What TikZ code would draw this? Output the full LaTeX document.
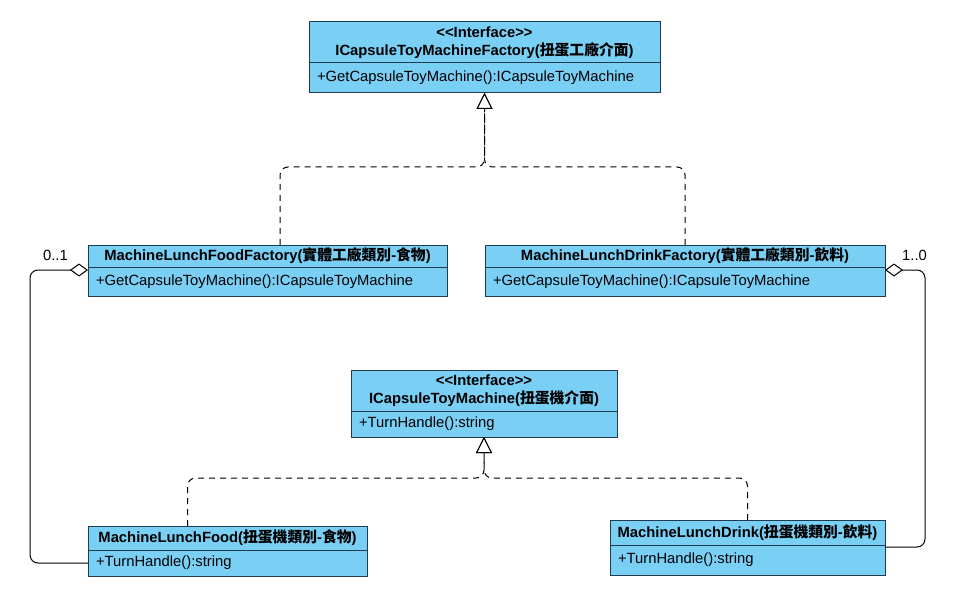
\documentclass[tikz,border=0pt]{standalone}
\usepackage{fontspec}
\setmainfont{Liberation Sans}
\newfontfamily\cjk{Noto Sans CJK TC}
\usetikzlibrary{positioning,arrows.meta}

\definecolor{classfill}{HTML}{7ACFF5}
\definecolor{classline}{HTML}{1F3B4D}
\newcommand{\stereotype}[1]{<\kern0pt<#1>\kern0pt>}
\newcommand{\zh}[1]{{\cjk #1}}

\begin{document}
\begin{tikzpicture}[x=1pt,y=-1pt,
    every node/.style={font=\fontsize{14.8}{18}\selectfont},
    classtitle/.style={draw=classline, fill=classfill, line width=1pt, anchor=north west,
        align=center, font=\fontsize{14.8}{18}\selectfont\bfseries, inner sep=0pt, outer sep=0pt},
    classbody/.style={draw=classline, fill=classfill, line width=1pt, align=left,
        inner xsep=8pt, inner ysep=0pt, outer sep=0pt},
    realize/.style={draw=black, line width=1pt, dash pattern=on 6pt off 5pt, rounded corners=8pt,
        -{Triangle[open, length=16pt, width=16pt, fill=white]}},
    aggr/.style={draw=black, line width=1pt, rounded corners=8pt,
        {Diamond[open, length=18pt, width=13pt, fill=white]}-},
    mult/.style={inner sep=0pt}]
    \useasboundingbox (0,0) rectangle (953,604); % Page size

    % Factory interface
    \node[classtitle, minimum width=351pt, minimum height=41pt] (ifac) at (309,22)
        {\stereotype{Interface}\\ICapsuleToyMachineFactory(\zh{扭蛋工廠介面})};
    \node[classbody, below=0pt of ifac, text width=335pt, minimum height=30pt] (ifacb)
        {+GetCapsuleToyMachine():ICapsuleToyMachine};

    % Concrete factories
    \node[classtitle, minimum width=359pt, minimum height=22pt] (lfac) at (88,245)
        {MachineLunchFoodFactory(\zh{實體工廠類別}-\zh{食物})};
    \node[classbody, below=0pt of lfac, text width=343pt, minimum height=29pt] (lfacb)
        {+GetCapsuleToyMachine():ICapsuleToyMachine};
    \node[classtitle, minimum width=400pt, minimum height=22pt] (rfac) at (485,245)
        {MachineLunchDrinkFactory(\zh{實體工廠類別}-\zh{飲料})};
    \node[classbody, below=0pt of rfac, text width=384pt, minimum height=29pt] (rfacb)
        {+GetCapsuleToyMachine():ICapsuleToyMachine};

    % Machine interface
    \node[classtitle, minimum width=266pt, minimum height=41pt] (imac) at (351,370)
        {\stereotype{Interface}\\ICapsuleToyMachine(\zh{扭蛋機介面})};
    \node[classbody, below=0pt of imac, text width=250pt, minimum height=26pt] (imacb)
        {+TurnHandle():string};

    % Concrete machines
    \node[classtitle, minimum width=279pt, minimum height=24pt] (food) at (88,526)
        {MachineLunchFood(\zh{扭蛋機類別}-\zh{食物})};
    \node[classbody, below=0pt of food, text width=263pt, minimum height=26pt] (foodb)
        {+TurnHandle():string};
    \node[classtitle, minimum width=275pt, minimum height=25pt] (drink) at (610,520)
        {MachineLunchDrink(\zh{扭蛋機類別}-\zh{飲料})};
    \node[classbody, below=0pt of drink, text width=259pt, minimum height=30pt] (drinkb)
        {+TurnHandle():string};

    % Realization arrows
    \coordinate (fjoin) at (484.5,167); % Meeting point under the factory interface
    \coordinate (mjoin) at (484,478);   % Meeting point under the machine interface
    \draw[realize] ([xshift=12.5pt]lfac.north) |- (fjoin) -- (ifacb.south);
    \draw[realize] (rfac.north) |- (fjoin) -- (ifacb.south);
    \draw[realize] ([xshift=-40pt]food.north) |- (mjoin) -- (imacb.south);
    \draw[realize] (drink.north) |- (mjoin) -- (imacb.south);

    % Aggregations
    \draw[aggr] ([yshift=-3pt]lfacb.north west) -- ++(-58,0) |- (foodb.west);
    \draw[aggr] ([yshift=-3pt]rfacb.north east) -- ++(40,0) |- ([yshift=-2pt]drinkb.north east);
    \node[mult, anchor=east] (lfmult) at (68,255) {0..1};
    \node[mult, anchor=west] (rfmult) at (902,255) {1..0};
\end{tikzpicture}
\end{document}
